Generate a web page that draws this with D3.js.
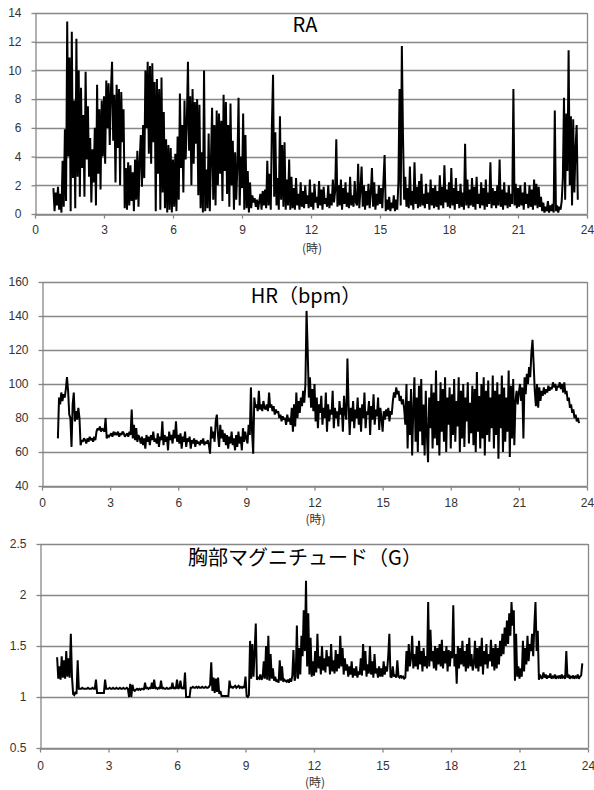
<!DOCTYPE html>
<html>
<head>
<meta charset="utf-8">
<script src="https://cdnjs.cloudflare.com/ajax/libs/d3/7.8.5/d3.min.js"></script>
<style>
  html, body { margin: 0; padding: 0; background: #fff; }
  svg { display: block; }
</style>
</head>
<body>
<svg id="chart" width="594" height="790"></svg>
<script>
// ---------------- DATA ----------------
const xTicks = [0, 3, 6, 9, 12, 15, 18, 21, 24];
const xUnitLabel = "(時)";

// RA: sampled every 0.05 h starting at 0.80 h
const raTitle = "RA";
const raStart = 0.80, raStep = 0.05;
const raTicks = [0, 2, 4, 6, 8, 10, 12, 14];
const raValues = [
  1.8, 0.2, 1.5, 0.6,
  1.9, 0.3, 1.4, 0.1, 3.7, 0.5, 5.9, 0.9, 13.4, 4.0, 10.9, 0.2, 12.7, 2.5, 7.9, 0.4, 12.2, 2.6, 10.0, 1.2,
  8.8, 3.2, 6.9, 1.2, 9.9, 3.8, 7.5, 2.6, 5.3, 0.8, 4.5, 2.2, 6.0, 0.6, 9.0, 2.8, 7.3, 1.7, 7.9, 4.0,
  8.2, 3.5, 9.3, 6.0, 9.1, 4.8, 8.6, 10.6, 5.1, 8.3, 2.2, 9.0, 4.6, 8.7, 2.0, 8.5, 5.0, 7.3, 0.4, 3.2,
  0.3, 3.6, 0.6, 3.4, 0.9, 2.9, 0.2, 3.8, 1.0, 4.4, 0.5, 3.7, 5.5, 1.9, 6.2, 2.5, 10.0, 6.0, 10.6, 4.2,
  10.3, 3.5, 10.5, 5.0, 9.2, 0.2, 9.4, 2.8, 8.7, 0.3, 9.5, 1.5, 7.1, 0.4, 5.2, 0.1, 4.8, 0.3, 4.6, 0.1,
  3.8, 0.5, 4.2, 0.2, 5.4, 1.0, 8.4, 3.2, 6.2, 1.5, 7.9, 3.8, 6.3, 10.6, 4.4, 8.2, 2.0, 8.7, 3.5, 7.8,
  4.9, 8.0, 1.3, 7.6, 0.4, 4.3, 0.1, 10.0, 0.2, 3.1, 0.4, 5.6, 0.2, 3.8, 7.4, 1.0, 6.2, 0.6, 7.2, 2.0,
  7.0, 2.8, 6.5, 0.9, 8.3, 3.0, 7.8, 1.4, 6.2, 0.5, 7.7, 2.0, 5.1, 0.3, 4.3, 1.0, 3.4, 8.1, 0.6, 4.0,
  1.8, 7.0, 0.3, 5.5, 0.4, 3.0, 0.1, 2.2, 0.4, 1.3, 0.8, 1.1, 0.5, 1.0, 0.3, 0.9, 1.4, 0.3, 1.6, 0.6,
  1.7, 0.4, 3.7, 0.6, 2.8, 0.3, 6.2, 9.7, 1.2, 5.7, 0.6, 2.5, 0.3, 6.8, 1.0, 4.8, 0.5, 5.0, 0.3, 2.4,
  0.6, 3.8, 0.3, 2.6, 0.4, 1.8, 0.3, 2.5, 0.6, 1.4, 0.3, 2.2, 0.5, 1.6, 0.4, 2.0, 0.7, 1.3, 0.4, 2.4,
  0.5, 1.5, 0.3, 2.1, 0.8, 1.2, 0.4, 2.3, 0.6, 1.7, 0.3, 1.9, 0.7, 1.1, 0.5, 2.0, 0.4, 1.4, 0.6, 2.4,
  0.8, 1.6, 5.2, 0.5, 2.0, 0.6, 2.4, 0.3, 1.8, 0.7, 2.2, 0.5, 1.5, 0.4, 2.6, 0.6, 1.3, 0.5, 2.3, 0.8,
  0.6, 3.5, 0.4, 1.7, 3.3, 0.5, 2.0, 0.3, 1.6, 0.6, 2.1, 0.4, 1.5, 3.2, 0.5, 2.2, 0.3, 1.4, 0.6, 2.0,
  0.7, 1.8, 0.4, 2.3, 4.1, 0.2, 1.0, 0.3, 1.2, 0.2, 0.8, 0.4, 1.3, 0.2, 1.0, 0.3, 2.2, 8.7, 0.6, 11.7,
  5.4, 1.0, 2.6, 0.5, 1.8, 0.4, 3.3, 0.6, 1.6, 0.3, 3.6, 0.7, 1.9, 0.4, 2.3, 0.5, 2.8, 0.6, 1.4, 0.4,
  2.1, 0.7, 1.5, 0.3, 2.4, 0.6, 1.8, 0.4, 2.0, 0.5, 1.6, 0.3, 2.7, 0.6, 1.9, 0.4, 3.4, 0.8, 1.7, 0.5,
  2.2, 0.4, 3.2, 0.6, 1.8, 0.3, 2.5, 0.7, 1.6, 0.4, 2.1, 0.5, 1.5, 0.3, 4.9, 0.6, 2.4, 0.4, 1.7, 0.6,
  2.5, 0.5, 1.9, 0.3, 2.6, 0.7, 1.4, 0.4, 2.2, 0.6, 1.8, 0.3, 2.4, 0.5, 1.5, 0.7, 3.6, 0.4, 1.8, 0.6,
  1.6, 0.4, 2.0, 0.6, 3.8, 0.5, 1.7, 0.3, 2.2, 0.6, 1.5, 0.4, 2.0, 0.5, 1.4, 0.7, 8.7, 0.6, 2.1, 0.4,
  1.8, 0.5, 2.0, 0.6, 1.5, 0.3, 2.2, 0.7, 1.4, 0.4, 2.0, 0.5, 1.7, 0.3, 2.4, 0.6, 2.1, 0.4, 1.9, 0.5,
  1.2, 0.2, 0.8, 0.1, 0.5, 0.2, 0.9, 0.1, 0.6, 0.2, 0.7, 0.1, 7.2, 0.2, 0.6, 0.1, 0.5, 0.3, 0.9, 2.5,
  8.1, 1.0, 7.0, 3.0, 11.4, 2.0, 6.8, 0.6, 6.6, 1.5, 4.5, 6.2, 1.0
];

// HR (bpm): sampled every 0.05 h starting at 0.70 h
const hrTitle = "HR（bpm）";
const hrStart = 0.70, hrStep = 0.05;
const hrTicks = [40, 60, 80, 100, 120, 140, 160];
const hrValues = [
  68, 92, 88, 95, 90, 94,
  92, 97, 104, 96, 82, 80, 63, 88, 95, 78, 84, 79, 86, 80, 64, 67, 66, 68, 67, 65,
  68, 66, 69, 67, 68, 66, 69, 67, 72, 74, 73, 75, 72, 74, 73, 72, 80, 68, 70, 69,
  70, 71, 69, 72, 70, 71, 70, 72, 69, 71, 70, 72, 71, 69, 70, 71, 69, 72, 70, 85,
  68, 76, 67, 74, 66, 70, 68, 65, 69, 64, 68, 62, 70, 66, 69, 64, 70, 67, 72, 66,
  68, 65, 71, 63, 69, 67, 78, 64, 70, 66, 69, 61, 72, 67, 70, 65, 73, 68, 78, 66,
  70, 65, 71, 62, 69, 66, 72, 63, 68, 66, 69, 62, 67, 65, 68, 63, 67, 65, 66, 64,
  67, 65, 68, 64, 66, 65, 67, 64, 59, 75, 68, 72, 66, 78, 82, 70, 63, 76, 68, 73,
  66, 71, 64, 70, 62, 69, 65, 72, 64, 68, 61, 70, 63, 72, 65, 69, 61, 74, 66, 72,
  68, 65, 76, 70, 98, 72, 59, 92, 86, 88, 84, 96, 85, 88, 84, 90, 86, 85, 88, 84,
  95, 86, 88, 84, 87, 82, 85, 83, 84, 80, 82, 78, 81, 79, 80, 76, 82, 78, 80, 76,
  86, 72, 88, 75, 95, 80, 90, 83, 92, 87, 96, 89, 100, 143, 120, 92, 104, 86, 97, 84,
  100, 78, 92, 74, 88, 83, 93, 76, 86, 80, 95, 72, 88, 78, 85, 82, 96, 74, 86, 80,
  84, 75, 90, 82, 86, 72, 93, 83, 79, 115, 88, 70, 86, 78, 90, 74, 85, 80, 92, 76,
  86, 72, 88, 80, 95, 74, 84, 82, 90, 70, 87, 79, 94, 76, 85, 81, 92, 73, 86, 80,
  72, 84, 79, 85, 81, 86, 78, 84, 82, 90, 95, 92, 98, 94, 96, 90, 93, 88, 91, 85,
  76, 100, 62, 90, 70, 97, 58, 85, 104, 66, 92, 60, 99, 72, 103, 64, 88, 58, 96, 70,
  54, 92, 74, 100, 62, 95, 68, 108, 64, 90, 58, 101, 72, 97, 66, 104, 60, 92, 76, 98,
  62, 94, 70, 103, 66, 90, 75, 104, 60, 96, 68, 100, 63, 92, 78, 101, 65, 89, 71, 99,
  64, 97, 60, 107, 72, 93, 62, 100, 68, 104, 58, 96, 70, 102, 66, 92, 74, 105, 62, 96,
  70, 101, 56, 94, 74, 105, 60, 98, 66, 92, 72, 108, 57, 99, 68, 103, 64, 90, 96, 88,
  95, 100, 90, 98, 68, 104, 94, 106, 100, 110, 104, 118, 126, 112, 96, 87, 100, 86, 98, 90,
  96, 93, 98, 94, 97, 95, 99, 96, 98, 97, 101, 98, 100, 96, 99, 98, 101, 97, 100, 95,
  101, 94, 96, 90, 92, 86, 88, 83, 85, 80, 82, 78, 80, 77
];

// Chest magnitude (G): sampled every 0.05 h starting at 0.75 h
const gTitle = "胸部マグニチュード（G）";
const gStart = 0.75, gStep = 0.05;
const gTicks = [0.5, 1, 1.5, 2, 2.5];
const gValues = [
  1.39, 1.18, 1.30, 1.17, 1.40,
  1.19, 1.36, 1.18, 1.45, 1.20, 1.38, 1.19, 1.62, 1.20, 1.03, 1.02, 1.05, 1.03, 1.36, 1.08, 1.08, 1.08, 1.09, 1.08, 1.08,
  1.08, 1.08, 1.09, 1.08, 1.08, 1.08, 1.09, 1.08, 1.08, 1.17, 1.04, 1.04, 1.04, 1.04, 1.04, 1.04, 1.04, 1.17, 1.08, 1.08,
  1.08, 1.09, 1.08, 1.08, 1.09, 1.08, 1.08, 1.09, 1.08, 1.08, 1.09, 1.08, 1.08, 1.09, 1.08, 1.08, 1.09, 1.08, 1.00, 1.13,
  1.00, 1.12, 1.07, 1.06, 1.07, 1.08, 1.07, 1.08, 1.07, 1.08, 1.08, 1.07, 1.14, 1.08, 1.09, 1.08, 1.09, 1.08, 1.14, 1.08,
  1.17, 1.08, 1.09, 1.08, 1.09, 1.08, 1.16, 1.08, 1.09, 1.08, 1.08, 1.09, 1.08, 1.08, 1.09, 1.08, 1.14, 1.08, 1.09, 1.08,
  1.17, 1.08, 1.09, 1.16, 1.08, 1.09, 1.08, 1.24, 1.00, 1.00, 1.00, 1.00, 1.09, 1.09, 1.10, 1.09, 1.09, 1.10, 1.09, 1.10,
  1.09, 1.09, 1.10, 1.09, 1.09, 1.10, 1.09, 1.09, 1.10, 1.12, 1.34, 1.06, 1.19, 1.04, 1.18, 1.05, 1.19, 1.03, 1.06, 1.01,
  1.01, 1.01, 1.01, 1.01, 1.01, 1.01, 1.16, 1.09, 1.10, 1.09, 1.10, 1.11, 1.09, 1.10, 1.11, 1.09, 1.10, 1.09, 1.10, 1.09,
  1.20, 1.01, 1.00, 1.02, 1.55, 1.18, 1.52, 1.20, 1.45, 1.72, 1.17, 1.19, 1.18, 1.22, 1.17, 1.19, 1.35, 1.18, 1.50, 1.17,
  1.60, 1.16, 1.42, 1.18, 1.28, 1.16, 1.20, 1.15, 1.17, 1.14, 1.36, 1.16, 1.30, 1.15, 1.17, 1.16, 1.15, 1.17, 1.14, 1.18,
  1.15, 1.21, 1.46, 1.16, 1.20, 1.70, 1.18, 1.48, 1.22, 1.60, 1.40, 1.85, 1.45, 2.14, 1.30, 1.82, 1.22, 1.58, 1.20, 1.35,
  1.21, 1.45, 1.24, 1.62, 1.28, 1.40, 1.22, 1.50, 1.26, 1.38, 1.24, 1.46, 1.30, 1.40, 1.22, 1.52, 1.25, 1.36, 1.23, 1.46,
  1.25, 1.42, 1.28, 1.60, 1.30, 1.48, 1.22, 1.38, 1.26, 1.32, 1.20, 1.30, 1.22, 1.35, 1.19, 1.28, 1.21, 1.30, 1.19, 1.25,
  1.22, 1.38, 1.21, 1.52, 1.26, 1.45, 1.20, 1.32, 1.23, 1.50, 1.22, 1.35, 1.19, 1.42, 1.23, 1.28, 1.19, 1.30, 1.20, 1.28,
  1.20, 1.35, 1.22, 1.30, 1.25, 1.40, 1.62, 1.20, 1.19, 1.30, 1.20, 1.22, 1.19, 1.36, 1.20, 1.19, 1.21, 1.19, 1.20, 1.18,
  1.19, 1.45, 1.25, 1.52, 1.30, 1.38, 1.60, 1.28, 1.42, 1.30, 1.50, 1.27, 1.55, 1.32, 1.45, 1.25, 1.48, 1.30, 1.40, 1.28,
  1.93, 1.30, 1.66, 1.35, 1.45, 1.28, 1.50, 1.26, 1.48, 1.32, 1.52, 1.30, 1.56, 1.28, 1.45, 1.33, 1.50, 1.25, 1.46, 1.30,
  1.45, 1.38, 1.90, 1.30, 1.42, 1.13, 1.50, 1.28, 1.48, 1.32, 1.55, 1.30, 1.45, 1.25, 1.52, 1.28, 1.58, 1.30, 1.42, 1.26,
  1.32, 1.55, 1.28, 1.48, 1.25, 1.50, 1.30, 1.58, 1.22, 1.45, 1.32, 1.52, 1.28, 1.42, 1.35, 1.56, 1.30, 1.48, 1.26, 1.52,
  1.28, 1.48, 1.32, 1.55, 1.40, 1.62, 1.42, 1.68, 1.50, 1.75, 1.52, 1.82, 1.60, 1.93, 1.70, 1.85, 1.16, 1.62, 1.20, 1.30,
  1.18, 1.28, 1.20, 1.55, 1.25, 1.48, 1.32, 1.60, 1.35, 1.52, 1.45, 1.62, 1.40, 1.70, 1.93, 1.45, 1.65, 1.17, 1.22, 1.19,
  1.18, 1.24, 1.19, 1.22, 1.18, 1.21, 1.19, 1.23, 1.18, 1.20, 1.19, 1.22, 1.18, 1.20, 1.19, 1.21, 1.18, 1.22, 1.19, 1.20,
  1.18, 1.45, 1.19, 1.22, 1.18, 1.20, 1.19, 1.21, 1.18, 1.20, 1.19, 1.22, 1.18, 1.20, 1.21, 1.33
];

// ---------------- DRAWING ----------------
const svg = d3.select("#chart");
const GRID = "#878787";
const TICKTXT = "#333";

function drawPanel(p) {
  const x = d3.scaleLinear().domain([0, 24]).range([p.left, p.right]);
  const y = d3.scaleLinear().domain(p.yDomain).range([p.bottom, p.top]);
  const g = svg.append("g");

  // horizontal gridlines
  g.append("g").selectAll("line").data(p.yTicks).join("line")
    .attr("x1", p.left).attr("x2", p.right)
    .attr("y1", d => Math.round(y(d)) + 0.5).attr("y2", d => Math.round(y(d)) + 0.5)
    .attr("stroke", GRID).attr("stroke-width", 1.3);

  // right border
  g.append("line")
    .attr("x1", p.right + 0.5).attr("x2", p.right + 0.5)
    .attr("y1", p.top).attr("y2", p.bottom)
    .attr("stroke", GRID).attr("stroke-width", 1.3);

  // y axis
  const ya = g.append("g").attr("transform", `translate(${p.left + 0.5},0)`)
    .call(d3.axisLeft(y).tickValues(p.yTicks).tickSize(4).tickPadding(10).tickSizeOuter(0)
      .tickFormat(d3.format("~g")));
  ya.select(".domain").attr("stroke", GRID).attr("stroke-width", 1.3);
  ya.selectAll(".tick line").attr("stroke", GRID).attr("stroke-width", 1.3);
  ya.selectAll("text").attr("fill", TICKTXT)
    .style("font-family", "'Liberation Sans', Arial, sans-serif").style("font-size", "12px");

  // x axis
  const xa = g.append("g").attr("transform", `translate(0,${p.bottom + 0.5})`)
    .call(d3.axisBottom(x).tickValues(xTicks).tickSize(4).tickPadding(p.xPad).tickSizeOuter(0));
  xa.select(".domain").attr("stroke", GRID).attr("stroke-width", 1.3);
  xa.selectAll(".tick line").attr("stroke", GRID).attr("stroke-width", 1.3);
  xa.selectAll("text").attr("fill", TICKTXT)
    .style("font-family", "'Liberation Sans', Arial, sans-serif").style("font-size", "12px");

  // unit label
  g.append("text").attr("x", x(12) + 1).attr("y", p.bottom + p.unitDy)
    .attr("text-anchor", "middle").attr("fill", TICKTXT)
    .style("font-family", "'Noto Sans CJK JP', sans-serif").style("font-size", "12px")
    .text(xUnitLabel);

  // series line
  const pts = p.values.map((v, i) => [p.start + i * p.step, v]);
  g.append("path").datum(pts)
    .attr("fill", "none").attr("stroke", "#000").attr("stroke-width", 2)
    .attr("stroke-linejoin", "miter").attr("stroke-miterlimit", 2)
    .attr("d", d3.line().x(d => x(d[0])).y(d => y(d[1])));

  // title
  g.append("text").attr("x", p.titleX).attr("y", p.titleY)
    .attr("text-anchor", "middle").attr("fill", "#000")
    .style("font-family", "'Noto Sans CJK JP', sans-serif").style("font-size", p.titleSize + "px")
    .text(p.title);
}

drawPanel({ left: 35, right: 587, top: 13, bottom: 214, yDomain: [0, 14], yTicks: raTicks,
  values: raValues, start: raStart, step: raStep, title: raTitle,
  titleX: 305, titleY: 32, titleSize: 20, xPad: 7, unitDy: 39 });

drawPanel({ left: 42, right: 587, top: 282, bottom: 486, yDomain: [40, 160], yTicks: hrTicks,
  values: hrValues, start: hrStart, step: hrStep, title: hrTitle,
  titleX: 306, titleY: 303, titleSize: 20, xPad: 8, unitDy: 38 });

drawPanel({ left: 40, right: 588, top: 544, bottom: 748, yDomain: [0.5, 2.5], yTicks: gTicks,
  values: gValues, start: gStart, step: gStep, title: gTitle,
  titleX: 305, titleY: 565, titleSize: 20, xPad: 9, unitDy: 39 });
</script>
</body>
</html>
